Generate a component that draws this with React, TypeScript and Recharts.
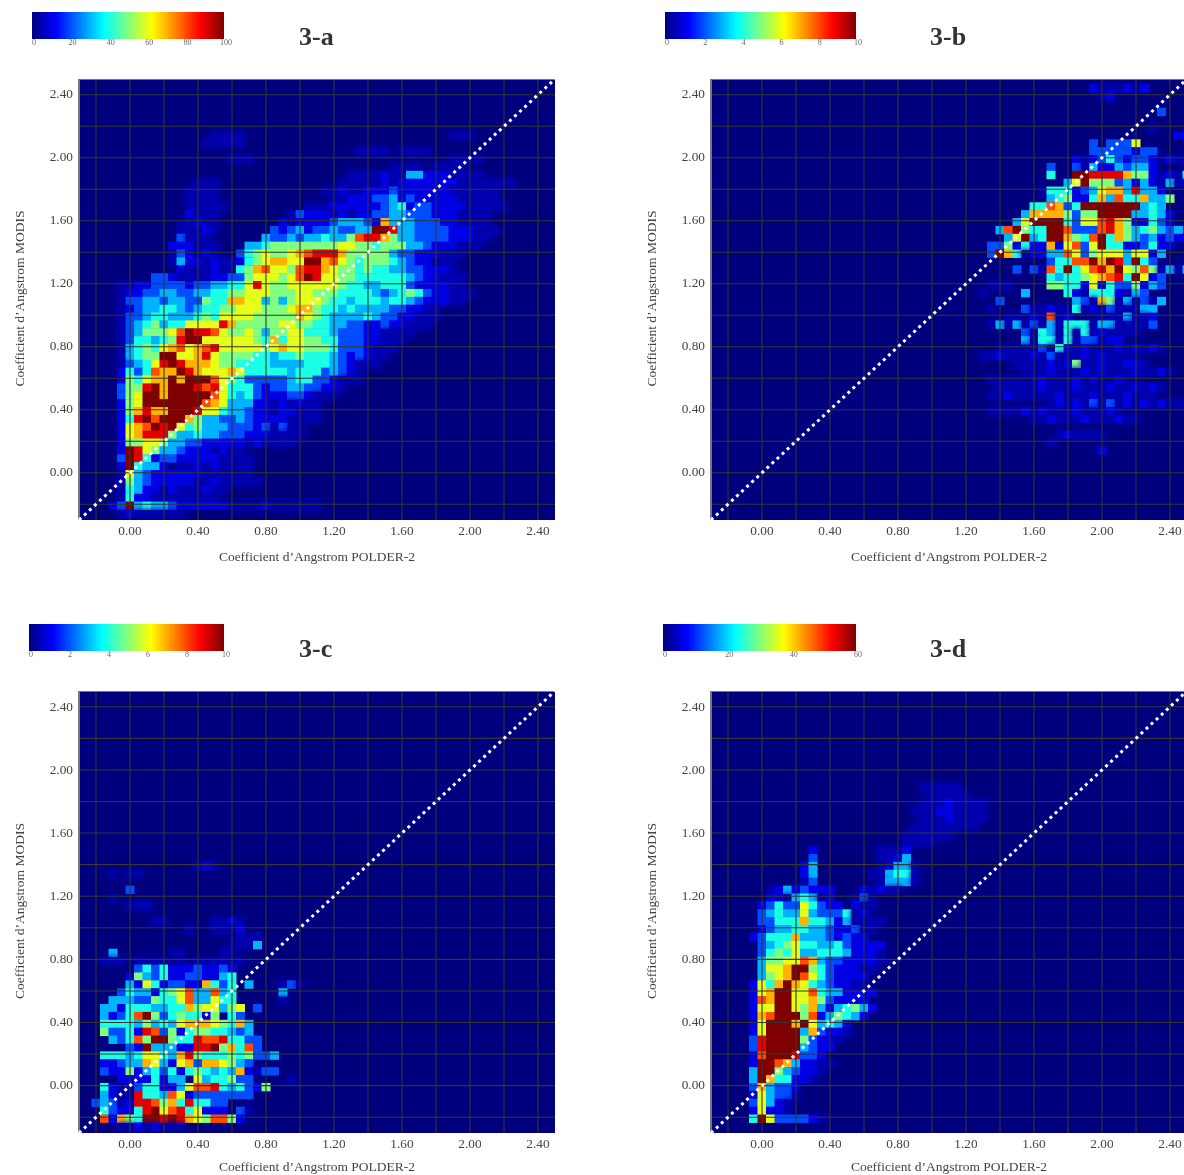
import { ReferenceArea, ReferenceLine, Scatter, ScatterChart, XAxis, YAxis } from "recharts";

type Row = [number, number, string];

// each row: y value, x of first cell, cell levels (. = faint, 0-9, a = 10; tenths of the colour bar)
const ROWS_A: Row[] = [
  [2.15, 0.5, "...."], [2.15, 1.9, "..."], [2.1, 0.45, "....."], [2.05, 1.35, "....0...."], [2.0, 0.6, "..."], [2.0, 1.9, "...."],
  [1.95, 1.55, "....0...."], [1.9, 1.3, "....1..33111...."], [1.85, 1.25, ".....1.1111111......."], [1.85, 0.4, "..."],
  [1.8, 0.35, "...."], [1.8, 1.15, "..1..1112111111......"], [1.75, 1.2, "..1112231211111....."], [1.75, 0.35, "...."], [1.7, 0.35, "....."],
  [1.7, 1.05, "...1111112341221111....."], [1.65, 0.35, "1..."], [1.65, 0.95, ".2111.1.112233222111...."], [1.6, 0.3, "..1.."],
  [1.6, 0.9, "1.1111233321733322211...."], [1.55, 0.3, "...1."], [1.55, 0.85, "212312232233aa9332222111..."],
  [1.5, 0.3, "2..."], [1.5, 0.8, "3223233433589975332222111.."], [1.45, 0.25, "111..."], [1.45, 0.7, "3345555555566554555332111..."],
  [1.4, 0.25, ".21.1."], [1.4, 0.65, "245655678999755555322111..."], [1.35, 0.25, ".311.1..12"], [1.35, 0.7, "4567766aa7865455543211..."],
  [1.3, 0.3, "1...1..123"], [1.3, 0.65, "4578665899765545443322111."], [1.25, 0.15, "221....1122334"], [1.25, 0.7, "5666568a966554444443211..."],
  [1.2, -0.05, "..112222122334"], [1.2, 0.65, "4696556666665443344421111.."], [1.15, -0.05, ".112233223344556"], [1.15, 0.75, "66555665554444323454211..."],
  [1.1, -0.05, ".223323322544776"], [1.1, 0.75, "63535666544344434432111.."], [1.05, -0.05, ".123344323445566"], [1.05, 0.75, "65556775443433332211.."],
  [1.0, -0.05, ".223443334546666"], [1.0, 0.75, "5555576543333432211..."], [0.95, -0.05, ".234534466669755"], [0.95, 0.75, "555665544332211211..."],
  [0.9, -0.05, ".2355568a99865565"], [0.9, 0.8, "35566444322211...."], [0.85, -0.05, ".2443459aa6666665"], [0.85, 0.8, "47466554422211..."],
  [0.8, -0.05, ".34546786789666665"], [0.8, 0.85, "676655542221..."], [0.75, -0.05, ".3455aa667965555"], [0.75, 0.75, "44344544432121.."],
  [0.7, -0.05, ".23469a977765544"], [0.7, 0.75, "443333444321..."], [0.65, -0.05, "1424877a9766676"], [0.65, 0.7, "4444434442321."],
  [0.6, -0.05, "154677a7aaa8654"], [0.6, 0.7, "22222344221..."], [0.55, -0.05, "2559a7aaa9896444"], [0.55, 0.75, "2122332211."],
  [0.5, -0.05, "256aa7aaaaa86434"], [0.5, 0.75, "2111221..."], [0.45, -0.05, "156aaaaaaa876333"], [0.45, 0.75, "11.1.1.."],
  [0.4, -0.05, "157977aaa9664332"], [0.4, 0.75, "11.11..."], [0.35, -0.05, "149a8aaa75332232"], [0.35, 0.75, "1111...."],
  [0.3, -0.05, "1678a9a645333222"], [0.3, 0.75, "12.2.."], [0.25, -0.05, "1679995334332221"], [0.25, 0.75, "11...."],
  [0.2, -0.05, "15566533221111"], [0.2, 0.65, "1.1...."], [0.15, -0.05, "1a965332111.1.."], [0.1, -0.05, "2a9412211111...."],
  [0.05, -0.05, "1a43310..1.1...."], [0.0, -0.05, ".632111111......"], [-0.05, -0.05, ".53211111..1....."], [-0.1, -0.05, ".4311.1...1.."],
  [-0.15, -0.05, ".411........"], [-0.2, -0.1, "12a34332111111....1......"], [-0.25, -0.05, ".1......"],
];

const ROWS_B: Row[] = [
  [2.45, 1.95, "1...1.1"], [2.4, 2.0, ".1"], [2.3, 2.35, "2"], [2.2, 2.3, "."], [2.15, 2.45, "1"], [2.1, 1.95, "202226"], [2.05, 1.95, "22222122"],
  [2.0, 1.85, "1.12421221.1.1"], [1.95, 1.7, "2"], [1.95, 1.85, "2.31132331"], [1.9, 1.7, "4"], [1.9, 1.85, "aa99997551.1.4"],
  [1.85, 1.8, "36a55523131.3.1"], [1.8, 1.65, ".44412367739331"], [1.75, 1.7, "345114738447335"], [1.7, 1.6, "448724aaaaaaa343"],
  [1.65, 1.55, "377775255aaaa33431"], [1.6, 1.5, "36aaaa4266897511421"], [1.55, 1.4, "38a544aa82228975345323"], [1.5, 1.45, "36a34aa7548a475323121"],
  [1.45, 1.35, "2251411716826a44112411"], [1.4, 1.35, "2a74.11338625666366 13".replace(" ", "")], [1.35, 1.7, "24488a7a93a42"],
  [1.3, 1.5, "2"], [1.3, 1.6, "2.84a46897a6585.3.33"], [1.25, 1.7, "4344567894a612"], [1.2, 1.35, "..."], [1.2, 1.7, "554416142251 32".replace(" ", "")],
  [1.15, 1.3, "."], [1.15, 1.55, "3"], [1.15, 1.8, "41.4441.32"], [1.1, 1.4, "2"], [1.1, 1.85, "32.75.3.2.3"], [1.05, 1.35, "."], [1.05, 1.55, "2.."], [1.05, 1.7, "1..4.1.2...33"],
  [1.0, 1.45, ".."], [1.0, 1.6, "1.8.1"], [1.0, 2.0, "...3..1"], [0.95, 1.35, ".3.3.2.3.444.33....2"], [0.9, 1.55, "2.43.4.4.1...."], [0.85, 1.55, "3.44.4.22.11"],
  [0.8, 1.4, ".....2.41.1...1.1.1."], [0.75, 1.3, "..1...1.2...1.1...."], [0.7, 1.5, "....1.15..1..11."], [0.65, 1.55, "...1...1.1...1..1."], [0.6, 1.35, "......1...1.1..1.."],
  [0.55, 1.4, ".....1...1...1..1.1."], [0.5, 1.35, "..1.....1...1...1..."], [0.45, 1.7, ".1.1.2.2.1.1.1...."], [0.4, 1.35, "....1.1...1...1."], [0.35, 1.6, "..1...1...1.."], [0.25, 1.75, ".1...."], [0.2, 1.7, "."], [0.15, 2.0, "1"],
];

const ROWS_C: Row[] = [
  [1.4, 0.4, ".1."], [1.35, -0.1, ".0.."], [1.25, 0.0, "2"], [1.2, -0.1, "."], [1.15, 0.0, "..."], [1.15, 0.1, "."], [1.05, 0.15, ".."], [1.05, 0.5, "..1."], [1.0, 0.35, "."], [1.0, 0.5, "...1"], [0.95, 0.65, "..."], [0.9, 0.6, "...3"],
  [0.85, -0.1, "3"], [0.85, 0.25, ".."], [0.85, 0.55, ".."], [0.8, -0.15, "..."], [0.8, 0.05, "....0.0..."], [0.8, 0.55, "..."],
  [0.75, 0.05, "242411121121"], [0.7, 0.0, "1532411221134"], [0.65, 0.0, "316412211742403"], [0.65, 0.9, ".2."],
  [0.6, -0.05, "24331456833834"], [0.6, 0.9, "3"], [0.55, -0.1, "333225446833644"], [0.55, 0.9, "."], [0.5, -0.15, "3314443344756635602"],
  [0.45, -0.15, "31248a524544150 42".replace(" ", "")], [0.4, -0.15, "444435343677765473"], [0.35, -0.15, "522419825145544323"],
  [0.3, -0.1, "32485aa54498894422"], [0.25, 0.0, "21a3331199a57482"], [0.2, -0.15, "444346643795444545223"],
  [0.15, -0.15, "112337631672776532"], [0.1, -0.15, "211513424145434371.22"], [0.05, -0.05, "1111413306344522"], [0.05, 0.95, "."],
  [0.0, -0.15, "41..2441136889434215"], [-0.05, -0.15, "31..94438612222222"], [-0.1, -0.2, "232.199857494422"],
  [-0.15, -0.15, "421149a68946111 02.".replace(" ", "")], [-0.2, -0.15, "81754aa9a97658851"], [-0.25, -0.05, "..1.1..."],
];

const ROWS_D: Row[] = [
  [1.9, 0.95, "....."], [1.85, 1.0, "....."], [1.8, 0.95, "...1...."], [1.75, 0.9, "...11...."], [1.7, 0.95, "...1...."], [1.65, 0.9, "........"], [1.6, 0.85, "......"], [1.55, 0.85, "...."],
  [1.5, 0.3, "1"], [1.5, 0.7, "...1"], [1.45, 0.3, "2"], [1.45, 0.7, "..13"], [1.4, 0.25, "13"], [1.4, 0.7, ".133."], [1.35, 0.25, "13"], [1.35, 0.65, "..344."], [1.3, 0.25, ".2"], [1.3, 0.7, ".333."],
  [1.25, 0.05, ".1312111"], [1.25, 0.6, "1.1.."], [1.2, 0.05, "11.343.1"], [1.2, 0.55, ".2."], [1.15, 0.0, "1242264211"], [1.15, 0.55, "1.."], [1.1, 0.0, "23433632224.1"], [1.05, 0.0, "22444744313"], [1.05, 0.55, "...."],
  [1.0, 0.0, "123344332112.."], [0.95, -0.05, "12444733321211"], [0.9, 0.0, "234564433421111"], [0.85, 0.0, "24546334443111."], [0.8, 0.0, "35566873221111."], [0.75, 0.0, "3667aa542111.."],
  [0.7, 0.0, "3567a86421111"], [0.65, -0.05, "1647a7643211.."], [0.6, -0.05, "167aa6684331111"], [0.55, -0.05, "187aa667521111"], [0.5, -0.05, "166aa6573134531"],
  [0.45, -0.05, "178aaa58135431"], [0.4, -0.05, "16aaa7a63431"], [0.35, -0.05, "16aaaa37211."], [0.3, -0.05, "29aaaa5211."], [0.25, -0.05, "29aaaa3211"],
  [0.2, -0.05, "18aaa9221"], [0.15, -0.05, "1aa87311.."], [0.1, -0.05, "3aa53211."], [0.05, -0.05, "3a74411."], [0.0, -0.05, "273221"],
  [-0.05, -0.05, "16322."], [-0.1, -0.05, "2631."], [-0.15, -0.05, "1611."], [-0.2, -0.05, "4a622221."],
];

const AXIS_TICKS = [0, 0.4, 0.8, 1.2, 1.6, 2, 2.4];
const GRID_VALUES = [-0.2, 0, 0.2, 0.4, 0.6, 0.8, 1, 1.2, 1.4, 1.6, 1.8, 2, 2.2, 2.4];
const AXIS_DOMAIN = [-0.3, 2.5];

const BAR_TICKS_A = [0, 20, 40, 60, 80, 100];
const BAR_TICKS_B = [0, 2, 4, 6, 8, 10];
const BAR_TICKS_C = [0, 2, 4, 6, 8, 10];
const BAR_TICKS_D = [0, 20, 40, 60];

const JET_STOPS: [number, number[]][] = [
  [0, [0, 0, 127]],
  [0.125, [0, 0, 255]],
  [0.375, [0, 255, 255]],
  [0.625, [255, 255, 0]],
  [0.875, [255, 0, 0]],
  [1, [127, 0, 0]],
];

const NAVY = "#00007f";
const FONT = "'Liberation Serif', serif";
const TEXT = "#444";
const CELL_W = 9;
const CELL_H = 8.4;
const FAINT = 0.06;

function jet(t: number) {
  for (let i = 1; i < JET_STOPS.length; i++) {
    const [t0, c0] = JET_STOPS[i - 1];
    const [t1, c1] = JET_STOPS[i];
    if (t <= t1) {
      const f = (t - t0) / (t1 - t0);
      return `rgb(${c0.map((c, k) => Math.round(c + (c1[k] - c) * f)).join(",")})`;
    }
  }
  return "#7f0000";
}

function toCells(rows: Row[], max: number) {
  return rows.flatMap(([y, x0, levels]) =>
    [...levels].flatMap((ch, i) => {
      const level = ch === "." ? FAINT * 10 : parseInt(ch, 36);
      if (!level) return [];
      return [{ x: +(x0 + i * 0.05).toFixed(2), y, value: (level / 10) * max }];
    })
  );
}

function ColorBar({ id, left, top, width, max, ticks }: { id: string; left: number; top: number; width: number; max: number; ticks: number[] }) {
  return (
    <div style={{ position: "absolute", left, top }}>
      <ScatterChart width={width + 24} height={42} margin={{ top: 0, right: 24, bottom: 0, left: 0 }}>
        <defs>
          <linearGradient id={id} x1="0" y1="0" x2="1" y2="0">
            {JET_STOPS.map(([t, c]) => (
              <stop key={t} offset={t} stopColor={`rgb(${c.join(",")})`} />
            ))}
          </linearGradient>
        </defs>
        <XAxis
          type="number"
          dataKey="x"
          domain={[0, max]}
          ticks={ticks}
          height={15}
          interval={0}
          axisLine={false}
          tickLine={false}
          tickSize={0}
          tickMargin={0}
          tick={{ fontSize: 8, fontFamily: FONT, fill: "#666", dx: 2 }}
        />
        <YAxis type="number" dataKey="y" domain={[0, 1]} hide />
        <ReferenceArea x1={0} x2={max} y1={0} y2={1} fill={`url(#${id})`} fillOpacity={1} stroke="none" />
        <Scatter data={ticks.map((t) => ({ x: t, y: 0 }))} shape={() => <g />} isAnimationActive={false} />
      </ScatterChart>
    </div>
  );
}

function Panel({ id, rows, max, left, top, plotHeight, labelOffset }: { id: string; rows: Row[]; max: number; left: number; top: number; plotHeight: number; labelOffset: number }) {
  const cells = toCells(rows, max);
  const gridLine = { stroke: "#36362e", strokeWidth: 1.1, zIndex: 800, ifOverflow: "hidden" as const };
  return (
    <div style={{ position: "absolute", left, top }}>
      <ScatterChart width={600} height={plotHeight + 60} margin={{ top: 0, right: 45, bottom: 0, left: 0 }}>
        <defs>
          <filter id={id} x="-100%" y="-100%" width="300%" height="300%">
            <feGaussianBlur stdDeviation="2.5" />
          </filter>
        </defs>
        <XAxis
          type="number"
          dataKey="x"
          domain={AXIS_DOMAIN}
          ticks={AXIS_TICKS}
          interval={0}
          allowDataOverflow
          height={60}
          axisLine={false}
          tickLine={false}
          tickMargin={0}
          tickFormatter={(v: number) => v.toFixed(2)}
          tick={{ fontSize: 13.3, fontFamily: FONT, fill: TEXT }}
          label={{ value: "Coefficient d’Angstrom POLDER-2", position: "insideBottom", offset: labelOffset, fontSize: 13.5, fontFamily: FONT, fill: TEXT }}
        />
        <YAxis
          type="number"
          dataKey="y"
          domain={AXIS_DOMAIN}
          ticks={AXIS_TICKS}
          interval={0}
          allowDataOverflow
          width={79}
          axisLine={false}
          tickLine={false}
          tickMargin={0}
          tickFormatter={(v: number) => v.toFixed(2)}
          tick={{ fontSize: 13.3, fontFamily: FONT, fill: TEXT, dy: -1 }}
          label={{ value: "Coefficient d’Angstrom MODIS", angle: -90, position: "insideLeft", offset: 19, dy: -1, fontSize: 13.5, fontFamily: FONT, fill: TEXT, style: { textAnchor: "middle" } }}
        />
        <ReferenceArea x1={-0.3} x2={2.5} y1={-0.3} y2={2.5} fill={NAVY} fillOpacity={1} stroke="none" zIndex={100} />
        <Scatter
          data={cells}
          isAnimationActive={false}
          shape={(p: any) => {
            const faint = p.payload.value <= FAINT * max;
            return (
              <rect
                x={p.cx - CELL_W / 2}
                y={p.cy - CELL_H / 2 + 1.5}
                width={CELL_W}
                height={CELL_H}
                fill={jet(p.payload.value / max)}
                filter={faint ? `url(#${id})` : undefined}
              />
            );
          }}
        />
        {GRID_VALUES.map((v) => (
          <ReferenceLine key={`x${v}`} x={v} {...gridLine} />
        ))}
        {GRID_VALUES.map((v) => (
          <ReferenceLine key={`y${v}`} y={v} {...gridLine} />
        ))}
        <ReferenceLine x={-0.3} stroke="#777" strokeWidth={2} zIndex={800} />
        <ReferenceLine y={2.5} stroke="#777" strokeWidth={2} zIndex={800} />
        <ReferenceLine
          segment={[{ x: -0.3, y: -0.3 }, { x: 2.5, y: 2.5 }]}
          stroke="#fff"
          strokeWidth={3}
          strokeDasharray="3 3.9"
          zIndex={900}
        />
      </ScatterChart>
    </div>
  );
}

function Title({ text, left, top }: { text: string; left: number; top: number }) {
  return (
    <div style={{ position: "absolute", left, top, fontFamily: FONT, fontWeight: "bold", fontSize: 26, lineHeight: "30px", color: "#333" }}>{text}</div>
  );
}

export default function App() {
  return (
    <div style={{ position: "absolute", left: 0, top: 0, width: 1184, height: 1175, overflow: "hidden", background: "#fff", opacity: 0.999 }}>
      <ColorBar id="jetA" left={32} top={12} width={192} max={100} ticks={BAR_TICKS_A} />
      <ColorBar id="jetB" left={665} top={12} width={191} max={10} ticks={BAR_TICKS_B} />
      <ColorBar id="jetC" left={29} top={624} width={195} max={10} ticks={BAR_TICKS_C} />
      <ColorBar id="jetD" left={663} top={624} width={193} max={60} ticks={BAR_TICKS_D} />
      <Title text="3-a" left={299} top={22} />
      <Title text="3-b" left={930} top={22} />
      <Title text="3-c" left={299} top={634} />
      <Title text="3-d" left={930} top={634} />
      <Panel id="softA" rows={ROWS_A} max={100} left={0} top={79} plotHeight={441} labelOffset={19} />
      <Panel id="softB" rows={ROWS_B} max={10} left={632} top={79} plotHeight={441} labelOffset={19} />
      <Panel id="softC" rows={ROWS_C} max={10} left={0} top={691} plotHeight={442} labelOffset={22} />
      <Panel id="softD" rows={ROWS_D} max={60} left={632} top={691} plotHeight={442} labelOffset={22} />
    </div>
  );
}
